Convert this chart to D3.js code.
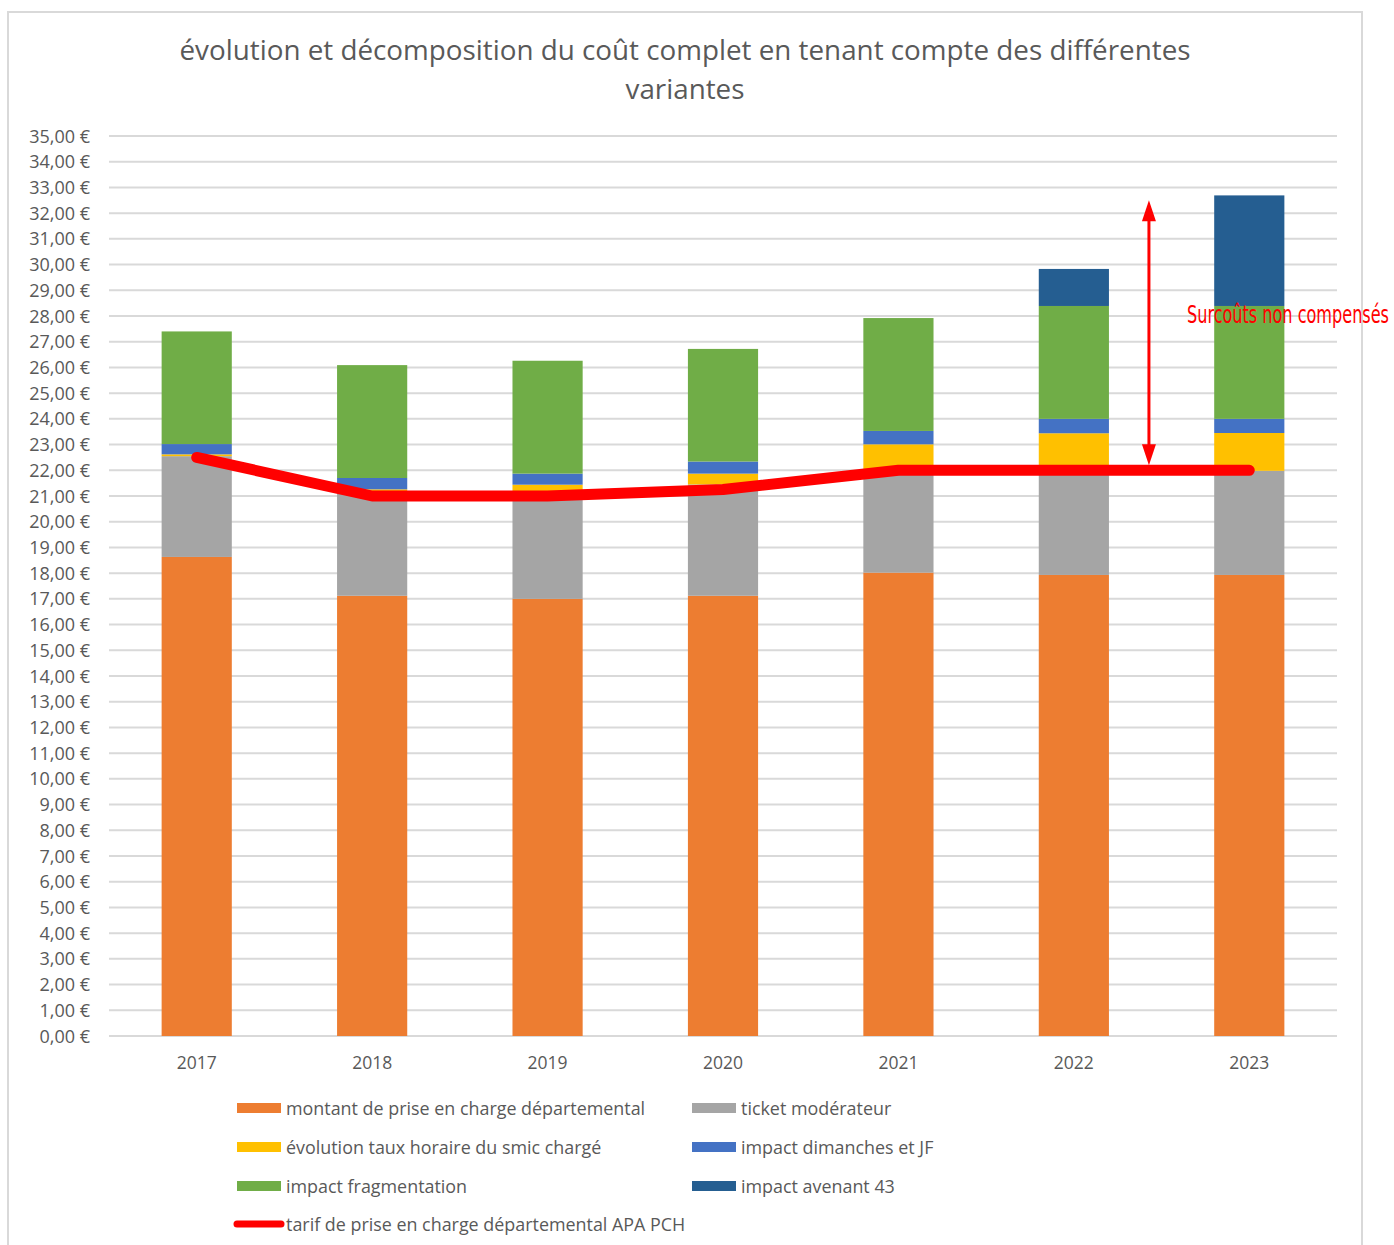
<!DOCTYPE html>
<html>
<head>
<meta charset="utf-8">
<script src="https://cdn.jsdelivr.net/npm/d3@7"></script>
<style>
  body { margin: 0; background: #fff; }
  text { font-family: "Open Sans", sans-serif; fill: #595959; }
</style>
</head>
<body>
<svg id="canvas"></svg>
<script>
const width = 1394;
const height = 1245;

const years = ["2017", "2018", "2019", "2020", "2021", "2022", "2023"];
const montant = [18.63, 17.12, 17.0, 17.12, 18.02, 17.93, 17.93];
const ticket = [3.92, 4.0, 4.0, 4.33, 3.98, 4.07, 4.05];
const smic = [0.07, 0.14, 0.44, 0.42, 1.01, 1.44, 1.47];
const dimanches = [0.40, 0.44, 0.43, 0.47, 0.52, 0.56, 0.55];
const fragmentation = [4.38, 4.39, 4.39, 4.38, 4.39, 4.39, 4.39];
const avenant = [0, 0, 0, 0, 0, 1.44, 4.30];
const tarif = [22.5, 21.0, 21.0, 21.25, 22.0, 22.0, 22.0];

const seriesNames = [
    "montant de prise en charge départemental",
    "ticket modérateur",
    "évolution taux horaire du smic chargé",
    "impact dimanches et JF",
    "impact fragmentation",
    "impact avenant 43"
];
const seriesColors = ["#ED7D31", "#A5A5A5", "#FFC000", "#4472C4", "#70AD47", "#255E91"];
const lineName = "tarif de prise en charge départemental APA PCH";
const yTicks = d3.range(0, 36, 1);

const title = ["évolution et décomposition du coût complet en tenant compte des différentes", "variantes"];
const annotation = "Surcoûts non compensés";
const arrowFrom = 22.2, arrowTo = 32.5;

const margin = { top: 136, left: 109, right: 1337, bottom: 1036 };

let canvas = d3.select("#canvas").attr("width", width).attr("height", height);

// frame
canvas.append("rect")
    .attr("x", 8).attr("y", 12)
    .attr("width", 1354).attr("height", 1260)
    .attr("fill", "none").attr("stroke", "#d9d9d9").attr("stroke-width", 2);

// title
canvas.append("g").selectAll("text")
    .data(title)
    .enter().append("text")
    .attr("x", 685)
    .attr("y", (d, i) => 60 + i * 39)
    .attr("text-anchor", "middle")
    .style("font-size", "27.8px")
    .text(d => d);

const x = d3.scaleBand().domain(years).range([margin.left, margin.right])
    .paddingInner(0.6).paddingOuter(0.3);
const y = d3.scaleLinear().domain([0, 35]).range([margin.bottom, margin.top]);

const fmt = v => d3.format(".2f")(v).replace(".", ",") + "\u00a0€";

// grid
canvas.append("g").selectAll("line")
    .data(yTicks)
    .enter().append("line")
    .attr("x1", margin.left).attr("x2", margin.right)
    .attr("y1", d => y(d)).attr("y2", d => y(d))
    .attr("stroke", "#d9d9d9").attr("stroke-width", 2);

// y labels
canvas.append("g").selectAll("text")
    .data(yTicks)
    .enter().append("text")
    .attr("x", 90)
    .attr("y", d => y(d) + 6.5)
    .attr("text-anchor", "end")
    .style("font-size", "18px")
    .text(fmt);

// x labels
canvas.append("g").selectAll("text")
    .data(years)
    .enter().append("text")
    .attr("x", d => x(d) + x.bandwidth() / 2)
    .attr("y", 1069)
    .attr("text-anchor", "middle")
    .style("font-size", "17.5px")
    .text(d => d);

// stacked bars
const table = years.map((yr, i) => ({
    year: yr, s0: montant[i], s1: ticket[i], s2: smic[i], s3: dimanches[i], s4: fragmentation[i], s5: avenant[i]
}));
const stack = d3.stack().keys(["s0", "s1", "s2", "s3", "s4", "s5"])(table);

canvas.append("g").selectAll("g")
    .data(stack)
    .enter().append("g")
    .attr("fill", (d, i) => seriesColors[i])
    .selectAll("rect")
    .data(d => d.filter(p => p[1] - p[0] > 0))
    .enter().append("rect")
    .attr("x", d => x(d.data.year))
    .attr("width", x.bandwidth())
    .attr("y", d => y(d[1]))
    .attr("height", d => y(d[0]) - y(d[1]));

// tarif line
const line = d3.line()
    .x((d, i) => x(years[i]) + x.bandwidth() / 2)
    .y(d => y(d));

canvas.append("path")
    .datum(tarif)
    .attr("d", line)
    .attr("fill", "none")
    .attr("stroke", "#FF0000")
    .attr("stroke-width", 11)
    .attr("stroke-linecap", "round")
    .attr("stroke-linejoin", "round");

// double arrow annotation
const ax = x("2022") + x.bandwidth() + 40;
const head = 21, hw = 7;
canvas.append("line")
    .attr("x1", ax).attr("x2", ax)
    .attr("y1", y(arrowTo) + head - 2).attr("y2", y(arrowFrom) - head + 2)
    .attr("stroke", "#FF0000").attr("stroke-width", 3);
canvas.append("path")
    .attr("d", `M${ax},${y(arrowTo)} L${ax - hw},${y(arrowTo) + head} L${ax + hw},${y(arrowTo) + head} Z`)
    .attr("fill", "#FF0000");
canvas.append("path")
    .attr("d", `M${ax},${y(arrowFrom)} L${ax - hw},${y(arrowFrom) - head} L${ax + hw},${y(arrowFrom) - head} Z`)
    .attr("fill", "#FF0000");

canvas.append("text")
    .attr("x", 1187).attr("y", 323)
    .attr("textLength", 202).attr("lengthAdjust", "spacingAndGlyphs")
    .style("font-family", "'Liberation Sans Narrow', 'DejaVu Sans Condensed', sans-serif")
    .style("font-size", "24px")
    .style("fill", "#FF0000")
    .text(annotation);

// legend
const legendPos = [[237, 1108], [692, 1108], [237, 1147], [692, 1147], [237, 1186], [692, 1186]];
const legend = canvas.append("g");
seriesNames.forEach((name, i) => {
    const [lx, ly] = legendPos[i];
    legend.append("rect")
        .attr("x", lx).attr("y", ly - 5)
        .attr("width", 44).attr("height", 10)
        .attr("fill", seriesColors[i]);
    legend.append("text")
        .attr("x", lx + 49).attr("y", ly + 6.5)
        .style("font-size", "17.9px")
        .text(name);
});
legend.append("line")
    .attr("x1", 237).attr("x2", 281)
    .attr("y1", 1224).attr("y2", 1224)
    .attr("stroke", "#FF0000").attr("stroke-width", 7)
    .attr("stroke-linecap", "round");
legend.append("text")
    .attr("x", 286).attr("y", 1230.5)
    .style("font-size", "17.9px")
    .text(lineName);
</script>
</body>
</html>
